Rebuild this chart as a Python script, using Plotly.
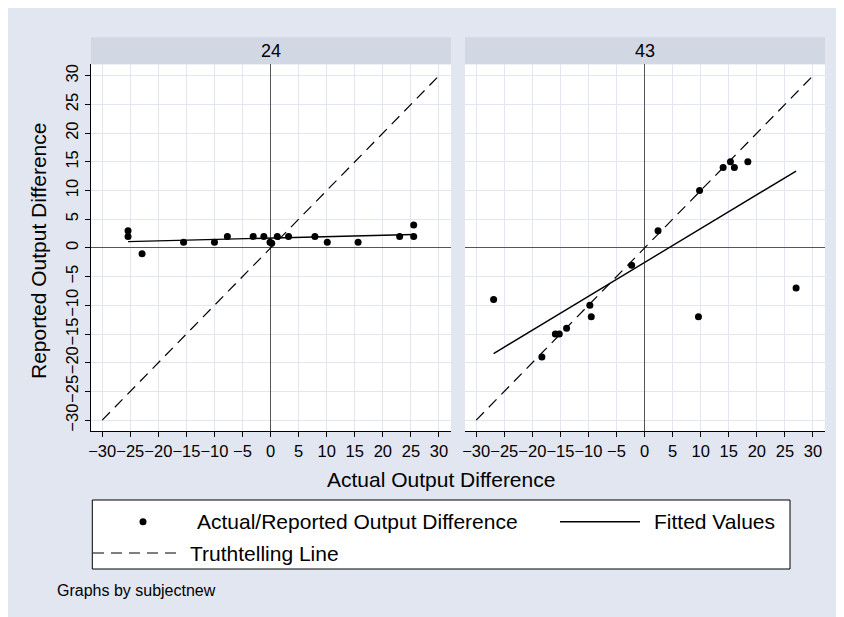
import plotly.graph_objects as go

W, H = 844, 617

# ---------------- data ----------------
panels = ["24", "43"]

x_24 = [-25.4, -25.4, -22.9, -15.5, -10.0, -7.7, -3.1, -1.2, -0.1, 0.2, 1.2, 3.2, 7.9, 10.1, 15.6, 23.0, 25.5, 25.5]
y_24 = [3, 2, -1, 1, 1, 2, 2, 2, 1, 0.8, 2, 2, 2, 1, 1, 2, 2, 4]

x_43 = [-26.9, -18.3, -15.9, -15.2, -13.9, -9.75, -9.5, -2.3, 2.4, 9.6, 9.8, 14.0, 15.3, 16.0, 18.4, 27.0]
y_43 = [-9, -19, -15, -15, -14, -10, -12, -3, 3, -12, 10, 14, 15, 14, 15, -7]

fit_x_24 = [-25.4, 25.5]
fit_y_24 = [1.1, 2.35]
fit_x_43 = [-26.9, 27.0]
fit_y_43 = [-18.4, 13.4]

truth_x = [-30, 30]
truth_y = [-30, 30]

tick_vals = [-30, -25, -20, -15, -10, -5, 0, 5, 10, 15, 20, 25, 30]

legend_labels = ["Actual/Reported Output Difference", "Fitted Values", "Truthtelling Line"]
x_title = "Actual Output Difference"
y_title = "Reported Output Difference"
note = "Graphs by subjectnew"

# ---------------- style ----------------
FONT = "Liberation Sans, Arial, Helvetica, sans-serif"
BG = "#e1e6f0"
STRIP = "#d1d8e4"
GRID = "#e1e6f0"
ZERO = "#555555"
DASH = "11px,7px"
OFF = 8  # page offset of the figure inside the browser window


def px(x):
    return (x - OFF) / W


def py(y):
    return 1 - (y - OFF) / H


fig = go.Figure()

series = [
    (x_24, y_24, fit_x_24, fit_y_24, "x", "y"),
    (x_43, y_43, fit_x_43, fit_y_43, "x2", "y2"),
]
for xs, ys, fx, fy, xa, ya in series:
    fig.add_trace(go.Scatter(x=truth_x, y=truth_y, mode="lines", xaxis=xa, yaxis=ya,
                             line=dict(color="black", width=1.2, dash=DASH),
                             name=legend_labels[2], showlegend=False, hoverinfo="skip"))
    fig.add_trace(go.Scatter(x=fx, y=fy, mode="lines", xaxis=xa, yaxis=ya,
                             line=dict(color="black", width=1.4),
                             name=legend_labels[1], showlegend=False))
    fig.add_trace(go.Scatter(x=xs, y=ys, mode="markers", xaxis=xa, yaxis=ya,
                             marker=dict(color="black", size=7),
                             name=legend_labels[0], showlegend=False))

X_RANGE = [-32, 32.15]
Y_RANGE = [-31.9, 32]

common_x = dict(range=X_RANGE, tickvals=tick_vals, ticks="outside", ticklen=5, tickwidth=1,
                tickcolor="black", showline=True, linecolor="black", linewidth=1,
                showgrid=True, gridcolor=GRID, gridwidth=1.2,
                zeroline=True, zerolinecolor=ZERO, zerolinewidth=1.2,
                tickangle=0, tickfont=dict(size=16.5, color="black", family=FONT),
                automargin=False, fixedrange=True)

top_px, bot_px = 64.3, 431
fig.update_layout(
    width=W, height=H,
    margin=dict(l=0, r=0, t=0, b=0),
    paper_bgcolor=BG,
    plot_bgcolor="white",
    showlegend=False,
    font=dict(family=FONT, color="black"),
    xaxis=dict(domain=[px(91), px(451)], anchor="y", **common_x),
    xaxis2=dict(domain=[px(465), px(825)], anchor="y2", **common_x),
    yaxis=dict(domain=[py(bot_px), py(top_px)], anchor="x", range=Y_RANGE, tickvals=tick_vals,
               ticks="outside", ticklen=5, tickwidth=1, tickcolor="black",
               showline=True, linecolor="black", linewidth=1,
               showgrid=True, gridcolor=GRID, gridwidth=1.2,
               zeroline=True, zerolinecolor=ZERO, zerolinewidth=1.2,
               tickangle=-90, tickfont=dict(size=16.5, color="black", family=FONT),
               automargin=False, fixedrange=True),
    yaxis2=dict(domain=[py(bot_px), py(top_px)], anchor="x2", range=Y_RANGE, tickvals=tick_vals,
                ticks="", showticklabels=False, showline=False,
                showgrid=True, gridcolor=GRID, gridwidth=1.2,
                zeroline=True, zerolinecolor=ZERO, zerolinewidth=1.2,
                automargin=False, fixedrange=True),
)

shapes = []
# strips
for x0, x1 in [(91, 451), (465, 825)]:
    shapes.append(dict(type="rect", xref="paper", yref="paper", x0=px(x0), x1=px(x1),
                       y0=py(64.3), y1=py(37.3), fillcolor=STRIP, line=dict(width=0), layer="below"))
# legend box
shapes.append(dict(type="rect", xref="paper", yref="paper", x0=px(92.3), x1=px(790),
                   y0=py(569), y1=py(500), fillcolor="white", line=dict(color="black", width=1)))
r1, r2 = 521.7, 553
shapes.append(dict(type="circle", xref="paper", yref="paper", x0=px(143 - 3.5), x1=px(143 + 3.5),
                   y0=py(r1 + 3.5), y1=py(r1 - 3.5), fillcolor="black", line=dict(width=0)))
shapes.append(dict(type="line", xref="paper", yref="paper", x0=px(560), x1=px(640),
                   y0=py(r1), y1=py(r1), line=dict(color="black", width=1.4)))
shapes.append(dict(type="line", xref="paper", yref="paper", x0=px(93), x1=px(182),
                   y0=py(r2), y1=py(r2), line=dict(color="black", width=1.2, dash=DASH)))

annotations = []
for lab, cx in zip(panels, [(91 + 451) / 2, (465 + 825) / 2]):
    annotations.append(dict(text=lab, xref="paper", yref="paper", x=px(cx), y=py(51),
                            xanchor="center", yanchor="middle", showarrow=False,
                            font=dict(size=18, family=FONT, color="black")))
annotations.append(dict(text=x_title, xref="paper", yref="paper", x=px(441), y=py(479),
                        xanchor="center", yanchor="middle", showarrow=False,
                        font=dict(size=21, family=FONT, color="black")))
annotations.append(dict(text=y_title, xref="paper", yref="paper", x=px(38), y=py(251),
                        xanchor="center", yanchor="middle", showarrow=False, textangle=-90,
                        font=dict(size=21, family=FONT, color="black")))
annotations.append(dict(text=legend_labels[0], xref="paper", yref="paper", x=px(195), y=py(r1),
                        xanchor="left", yanchor="middle", showarrow=False,
                        font=dict(size=21, family=FONT, color="black")))
annotations.append(dict(text=legend_labels[1], xref="paper", yref="paper", x=px(652), y=py(r1),
                        xanchor="left", yanchor="middle", showarrow=False,
                        font=dict(size=21, family=FONT, color="black")))
annotations.append(dict(text=legend_labels[2], xref="paper", yref="paper", x=px(188), y=py(r2),
                        xanchor="left", yanchor="middle", showarrow=False,
                        font=dict(size=21, family=FONT, color="black")))
annotations.append(dict(text=note, xref="paper", yref="paper", x=px(55), y=py(590),
                        xanchor="left", yanchor="middle", showarrow=False,
                        font=dict(size=16, family=FONT, color="black")))

fig.update_layout(shapes=shapes, annotations=annotations)

fig.write_html("out.html")
